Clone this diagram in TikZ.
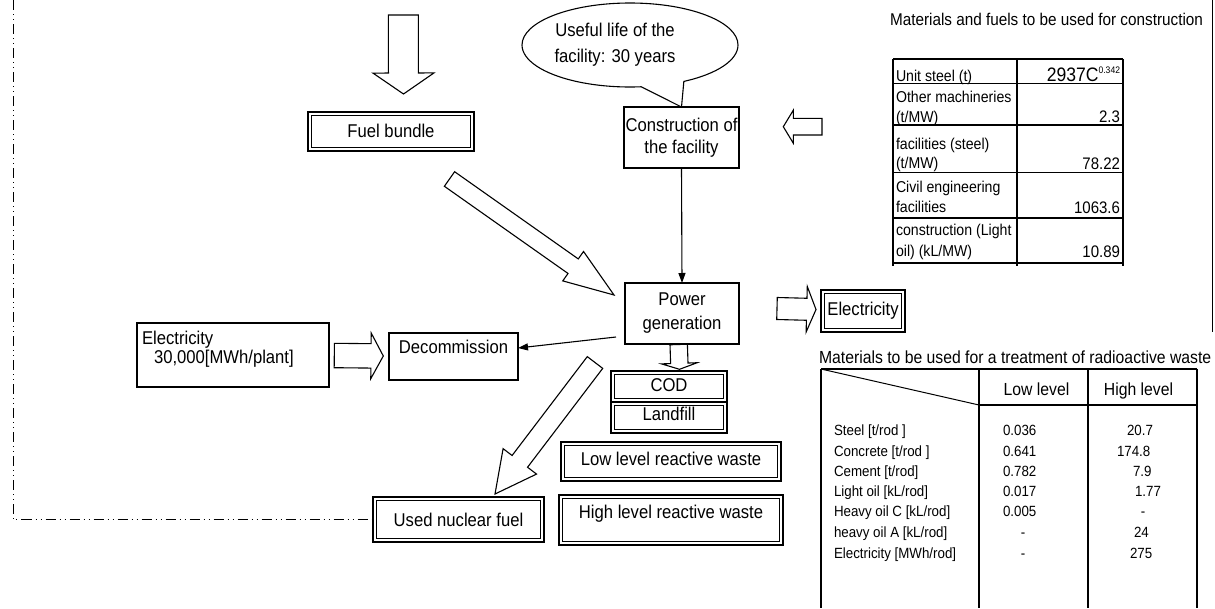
\documentclass[tikz,border=0pt]{standalone}
\usepackage{fontspec}
\setmainfont{Liberation Sans}[FakeStretch=0.9]
\usetikzlibrary{calc,arrows.meta,shapes.callouts}

% font sizes
\newcommand\FontBig{\fontsize{18.5}{22}\selectfont}
\newcommand\FontHead{\fontsize{17}{20}\selectfont}
\newcommand\FontHeadB{\fontsize{17.5}{20}\selectfont}
\newcommand\FontCell{\fontsize{15.7}{19}\selectfont}
\newcommand\FontVal{\fontsize{16.7}{19}\selectfont}
\newcommand\FontRow{\fontsize{14.8}{18}\selectfont}

% hollow block arrow: tail, tip, half shaft width, half head width, head length
\newcommand\fatarrow[5]{%
  \coordinate (fa-base) at ($(#2)!#5!(#1)$);
  \draw[fat] ($(#1)!#3!90:(#2)$) -- ($(fa-base)!#3!-90:(#1)$)
    -- ($(fa-base)!#4!-90:(#1)$) -- (#2) -- ($(fa-base)!#4!90:(#1)$)
    -- ($(fa-base)!#3!90:(#1)$) -- ($(#1)!#3!-90:(#2)$) -- cycle;}

% thin inner frame of a double-bordered box
\newcommand\dblin[1]{%
  \draw[line width=0.9pt] ([shift={(3.4pt,-3.4pt)}]#1.north west)
    rectangle ([shift={(-3.4pt,3.4pt)}]#1.south east);}

\begin{document}
\begin{tikzpicture}[x=1pt,y=-1pt,
  fat/.style={draw, line width=1.1pt, fill=white, line join=miter},
  conn/.style={line width=1.1pt, -{Triangle[length=10pt,width=7pt]}},
  box/.style={draw, line width=1.1pt, inner sep=0pt, outer sep=0pt, font=\FontBig},
  dbl/.style={draw, line width=1.8pt, inner sep=0pt, outer sep=0pt, font=\FontBig},
  txt/.style={inner sep=0pt, outer sep=0pt, anchor=base west},
  val/.style={inner sep=0pt, outer sep=0pt, anchor=base east, font=\FontVal},
  rowtxt/.style={inner sep=0pt, outer sep=0pt, anchor=base west, font=\FontRow},
  rowmid/.style={inner sep=0pt, outer sep=0pt, anchor=base, font=\FontRow},
]
\useasboundingbox (0,0) rectangle (1215,608);

% ---------- process boxes ----------
\node[box, minimum width=115pt, minimum height=61pt, align=center,
      font=\fontsize{18.5}{22}\selectfont] (cons) at (681.5,137.5) {Construction of\\the facility};
\node[box, minimum width=114pt, minimum height=61pt, align=center,
      font=\fontsize{18.5}{24}\selectfont] (pgen) at (682,313.5) {Power\\generation};
\node[dbl, minimum width=166pt, text height=25pt, text depth=14pt] (fuel) at (391,131.5) {Fuel bundle};
\node[box, minimum width=129pt, text height=20pt, text depth=27pt] (decom) at (453.5,356.5) {Decommission};
\node[box, minimum width=192pt, minimum height=64pt] (elecin) at (233,355) {};
\node[txt, font=\FontBig] (elecin1) at (142,344) {Electricity};
\node[txt, font=\FontBig] (elecin2) at (154,363) {30,000[MWh/plant]};
\node[dbl, minimum width=84pt, text height=25pt, text depth=17pt] (elecout) at (863,311) {Electricity};
\node[dbl, minimum width=116pt, text height=20.7pt, text depth=10.3pt] (cod) at (669,386.5) {COD};
\node[dbl, minimum width=116pt, text height=18.7pt, text depth=12.3pt] (landfill) at (669,417.5) {Landfill};
\node[dbl, minimum width=220pt, text height=23pt, text depth=16pt] (lowwaste) at (671,461.5) {Low level reactive waste};
\node[dbl, minimum width=224pt, text height=23pt, text depth=27pt] (highwaste) at (671,520) {High level reactive waste};
\node[dbl, minimum width=171pt, text height=29pt, text depth=16pt] (usedfuel) at (458.5,519.5) {Used nuclear fuel};
\foreach \n in {fuel,elecout,cod,landfill,lowwaste,highwaste,usedfuel} {\dblin{\n}}

% ---------- callout ----------
\node[ellipse callout, draw, line width=1.1pt, minimum width=216pt, minimum height=84pt,
      inner sep=0pt, callout absolute pointer={(cons.north)}, callout pointer arc=24] (life) at (630,45) {};
\node[font=\fontsize{18.5}{26}\selectfont, align=center, inner sep=0pt] (lifetext) at (615,45)
  {Useful life of the\\facility: 30 years};

% ---------- connectors ----------
\draw[conn] (cons.south) -- (pgen.north);
\draw[conn] ([xshift=-9pt,yshift=-23.5pt]pgen.west) -- ([yshift=8.5pt]decom.east);

% ---------- block arrows ----------
\coordinate (topTail) at (403.3,15);   \coordinate (topTip) at (403.5,94);
\fatarrow{topTail}{topTip}{15pt}{30.5pt}{21pt}
\coordinate (fuelTail) at (449.5,179); \coordinate (fuelTip) at (614,295);
\fatarrow{fuelTail}{fuelTip}{8.9pt}{18pt}{50pt}
\coordinate (matTail) at (822,126.7);  \coordinate (matTip) at (783.3,126.7);
\fatarrow{matTail}{matTip}{8.3pt}{16.5pt}{10pt}
\coordinate (outTail) at (777,308.5);  \coordinate (outTip) at (816,309.5);
\fatarrow{outTail}{outTip}{11pt}{22.8pt}{9.3pt}
\coordinate (ecTail) at (334.3,355.5); \coordinate (ecTip) at (383.3,356);
\fatarrow{ecTail}{ecTip}{12.2pt}{22.8pt}{12.3pt}
\coordinate (wTail) at (678.7,344.5);  \coordinate (wTip) at (679.5,369.3);
\fatarrow{wTail}{wTip}{8.7pt}{17.8pt}{6pt}
\coordinate (ufTail) at (595,362.5);   \coordinate (ufTip) at (495,494);
\fatarrow{ufTail}{ufTip}{9.7pt}{21pt}{41pt}

% ---------- recycling loop ----------
\coordinate (loopTop) at (13,0);
\draw[line width=0.9pt, dash pattern=on 10pt off 4pt on 1pt off 4pt on 1pt off 4pt]
  (loopTop) |- (usedfuel.west);

% ---------- frame edge ----------
\draw[line width=1.3pt] (1212.5,0) -- (1212.5,332);

% ---------- construction materials table ----------
\node[txt, font=\FontHead] (mathead) at (890,25) {Materials and fuels to be used for construction};
\draw[line width=1.7pt] (893,59) -- (1123,59);
\draw[line width=1.7pt] (893,263) -- (1123,263);
\foreach \yy in {83.5,125,172.5,218} \draw[line width=1.3pt] (893,\yy) -- (1123,\yy);
\foreach \xx in {893,1017,1123} \draw[line width=1.7pt] (\xx,59) -- (\xx,266);

\node[txt, font=\FontCell] (c11) at (896,81.5) {Unit steel (t)};
\node[val] (c12) at (1120,81.5) {\fontsize{19.5}{20}\selectfont 2937C\raisebox{8pt}{\fontsize{9.5}{9.5}\selectfont 0.342}};
\node[txt, font=\FontCell] (c21) at (896,102) {Other machineries};
\node[txt, font=\FontCell] (c21b) at (896,122) {(t/MW)};
\node[val] (c22) at (1120,122.5) {2.3};
\node[txt, font=\FontCell] (c31) at (896,149) {facilities (steel)};
\node[txt, font=\FontCell] (c31b) at (896,168) {(t/MW)};
\node[val] (c32) at (1120,169) {78.22};
\node[txt, font=\FontCell] (c41) at (896,192.5) {Civil engineering};
\node[txt, font=\FontCell] (c41b) at (896,212) {facilities};
\node[val] (c42) at (1120,213) {1063.6};
\node[txt, font=\FontCell] (c51) at (896,235) {construction (Light};
\node[txt, font=\FontCell] (c51b) at (896,256) {oil) (kL/MW)};
\node[val] (c52) at (1120,257) {10.89};

% ---------- radioactive waste table ----------
\node[txt, font=\FontHeadB] (radhead) at (819,363.3) {Materials to be used for a treatment of radioactive waste};
\draw[line width=1.2pt] (821,369) -- (1197,369);
\foreach \xx in {821,979,1088,1197} \draw[line width=1.2pt] (\xx,369) -- (\xx,608);
\draw[line width=1.2pt] (979,405) -- (1197,405);
\draw[line width=1pt] (821,369) -- (979,405);
\node[rowmid, font=\FontHeadB] (hlow) at (1036.5,395) {Low level};
\node[rowmid, font=\FontHeadB] (hhigh) at (1138.5,395) {High level};

\node[rowtxt] (r1) at (834,435) {Steel [t/rod ]};
\node[rowtxt] (r2) at (834,456) {Concrete [t/rod ]};
\node[rowtxt] (r3) at (834,476) {Cement [t/rod]};
\node[rowtxt] (r4) at (834,496) {Light oil [kL/rod]};
\node[rowtxt] (r5) at (834,516.5) {Heavy oil C [kL/rod]};
\node[rowtxt] (r6) at (834,537) {heavy oil A [kL/rod]};
\node[rowtxt] (r7) at (834,558) {Electricity [MWh/rod]};

\node[rowtxt] (l1) at (1003,435) {0.036};
\node[rowtxt] (l2) at (1003,456) {0.641};
\node[rowtxt] (l3) at (1003,476) {0.782};
\node[rowtxt] (l4) at (1003,496) {0.017};
\node[rowtxt] (l5) at (1003,516.5) {0.005};
\node[rowmid] (l6) at (1023,537) {-};
\node[rowmid] (l7) at (1023,558) {-};

\node[rowtxt] (h1) at (1127,435) {20.7};
\node[rowtxt] (h2) at (1117,456) {174.8};
\node[rowtxt] (h3) at (1133,476) {7.9};
\node[rowtxt] (h4) at (1135,496) {1.77};
\node[rowmid] (h5) at (1143,516.5) {-};
\node[rowtxt] (h6) at (1134,537) {24};
\node[rowtxt] (h7) at (1130,558) {275};
\end{tikzpicture}
\end{document}
